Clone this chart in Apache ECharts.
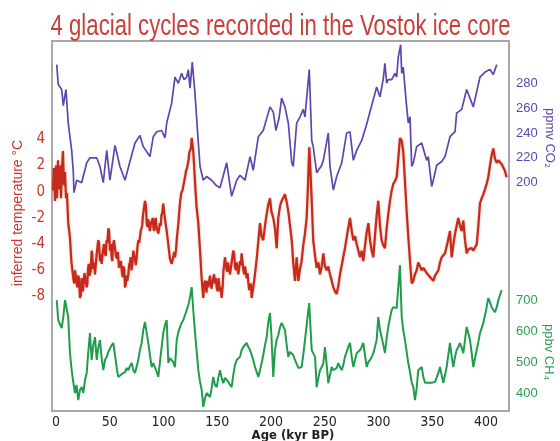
<!DOCTYPE html>
<html><head><meta charset="utf-8">
<script src="https://cdn.jsdelivr.net/npm/echarts@6/dist/echarts.min.js"></script>
<style>html,body{margin:0;padding:0;background:#fff}#c{width:560px;height:441px}</style>
</head><body><div id="c"></div>
<script>
const titleText = '4 glacial cycles recorded in the Vostok ice core';
const xName = 'Age (kyr BP)';
const tempName = 'inferred temperature \u00B0C';
const co2Name = 'ppmv CO\u2082';
const ch4Name = 'ppbv CH\u2084';
const xTicks = [0, 50, 100, 150, 200, 250, 300, 350, 400];
const tempTicks = [-8, -6, -4, -2, 0, 2, 4];
const co2Ticks = [200, 220, 240, 260, 280];
const ch4Ticks = [400, 500, 600, 700];

// [age kyr BP, ppmv]
const co2Data = [[0.7,295],[2.1,279],[5.3,275],[6.8,262],[9.3,275],[11.4,248],[14.6,226],[16.1,209],[16.7,192],[19.3,202],[23.9,200],[28.6,216],[31.6,220],[37.9,220],[40.9,213],[44,200],[47.2,226],[50.2,202],[54.9,230],[59.5,213],[64.2,202],[68.8,217],[73.5,232],[78.1,238],[81.2,229],[87.4,221],[90.5,237],[93.7,241],[98.3,242],[101.4,236],[103,248],[107.6,264],[110.7,285],[113.8,280],[116.9,288],[119,283],[121.6,285],[123.1,291],[124.7,276],[126.8,297],[129.3,272],[132.4,232],[134,213],[137,202],[140.2,205],[144.8,202],[148.8,198],[152.6,196],[158.8,216],[163.4,189],[168.1,202],[171.2,206],[175.8,202],[180.5,221],[183.5,210],[188.2,237],[192.8,242],[199.1,261],[202.1,257],[204.6,242],[207.5,252],[209.9,268],[213,261],[216.1,248],[219.3,216],[220.7,213],[223.9,248],[227,253],[230,259],[231.6,253],[235.6,291],[237.9,234],[239.3,229],[242.5,208],[247.2,214],[248.7,218],[253.3,240],[254.9,213],[258,194],[261.1,205],[265.8,216],[270.4,240],[273.5,241],[276.6,218],[279.7,226],[284.4,234],[289,247],[292.1,257],[298.3,277],[301.4,269],[304.5,284],[306,296],[307.6,280],[309.1,283],[312.3,283],[315.3,288],[316.9,285],[318.4,301],[320.6,311],[321.6,288],[323,293],[326.2,261],[327.7,248],[329.3,253],[330.9,213],[332.4,216],[335.5,229],[340.2,232],[344.8,218],[346.3,221],[349.5,197],[351,202],[354.1,214],[358.8,217],[361.9,221],[366.5,237],[371.2,241],[372.7,256],[374.2,255],[377.4,259],[378.9,260],[382,275],[388.2,261],[394.4,285],[399.1,289],[403.7,291],[406.8,287],[410,295]];

// [age kyr BP, inferred temperature °C]
const tempData = [[-2.8,0.1],[-1.9,1.8],[-0.9,-0.7],[0,2.0],[0.9,-0.5],[1.9,2.4],[2.8,0.2],[3.7,2.0],[4.7,-0.5],[5.6,1.8],[6.5,3.1],[7.4,0.5],[8.4,1.5],[9.3,-0.5],[10.2,-0.1],[11.4,-2.4],[13,-3.5],[14.4,-5.4],[15.2,-5.4],[16.1,-6.6],[16.9,-7.0],[17.7,-6.0],[18.5,-6.0],[19.3,-7.0],[19.9,-7.3],[20.5,-6.4],[21.4,-6.6],[22.3,-8.1],[23.1,-7.9],[23.9,-6.6],[24.5,-6.6],[25.1,-7.6],[25.8,-7.5],[26.5,-6.2],[27.5,-6.2],[28.6,-7.3],[29.2,-7.0],[29.8,-5.9],[30.5,-5.5],[31.2,-6.4],[32.2,-6.1],[33.2,-4.5],[33.8,-4.8],[34.4,-5.9],[35.3,-5.4],[36.3,-6.3],[37,-6.2],[37.7,-4.9],[38.5,-4.8],[39.3,-3.7],[40.1,-3.9],[40.9,-5.3],[41.7,-4.8],[42.5,-5.5],[43.1,-5.6],[43.7,-4.5],[44.6,-4.0],[45.6,-4.7],[46.3,-4.9],[47,-3.7],[47.8,-3.9],[48.7,-2.8],[49.4,-3.0],[50.2,-4.5],[51,-4.0],[51.8,-5.0],[52.4,-5.3],[53,-4.1],[53.9,-3.7],[54.9,-4.3],[55.8,-4.9],[56.7,-5.1],[57.6,-4.6],[58.6,-5.8],[59.5,-5.5],[60.4,-5.3],[61.4,-6.2],[62.1,-6.5],[62.8,-5.7],[63.5,-5.9],[64.2,-7.3],[64.9,-7.1],[65.6,-6.4],[66.4,-6.8],[67.3,-6.3],[68,-5.6],[68.8,-5.4],[69.5,-5.0],[70.2,-6.0],[71,-5.6],[71.9,-4.5],[72.7,-4.4],[73.5,-5.1],[74.3,-5.6],[75.1,-5.0],[75.9,-4.1],[76.7,-3.7],[77.4,-3.9],[78.1,-3.5],[78.8,-3.0],[79.5,-3.0],[80.2,-2.6],[80.9,-1.8],[81.8,-1.9],[82.8,-0.7],[83.6,-1.0],[84.4,-2.4],[85.1,-2.7],[85.9,-2.1],[86.6,-2.0],[87.4,-3.0],[88.3,-2.4],[89.3,-2.2],[90,-2.0],[90.7,-2.8],[91.4,-3.0],[92.1,-2.2],[92.8,-2.0],[93.5,-2.7],[94.3,-2.6],[95.2,-3.2],[95.9,-3.3],[96.7,-2.4],[97.4,-2.6],[98.1,-1.8],[98.9,-1.6],[99.8,-0.9],[100.6,-1.0],[101.4,-2.1],[102.2,-2.0],[103,-3.0],[103.8,-3.0],[104.6,-4.1],[105.3,-4.2],[106,-5.1],[106.8,-5.0],[107.6,-5.5],[108.4,-5.6],[109.3,-4.9],[110,-4.6],[110.7,-5.0],[111.6,-4.5],[112.6,-3.4],[113.9,-2.4],[115.3,-0.9],[116.5,-0.1],[117.7,0.1],[118.8,0.2],[120,1.1],[121,1.6],[121.9,1.8],[122.6,1.8],[123.3,2.4],[124,3.0],[124.7,3.1],[125.5,3.3],[126.2,4.1],[127.7,3.1],[129.3,0.8],[130.7,-1.1],[132.4,-2.4],[134,-4.5],[135.5,-6.6],[137,-8.1],[137.8,-7.1],[138.6,-6.8],[139.3,-7.0],[140,-7.7],[140.8,-6.8],[141.7,-7.3],[142.5,-7.4],[143.3,-6.4],[144,-6.3],[144.6,-7.4],[145.4,-7.0],[146.3,-6.6],[147.1,-6.3],[147.9,-7.0],[148.7,-6.6],[149.5,-7.3],[150.3,-7.6],[151.2,-6.6],[151.9,-6.5],[152.6,-7.6],[153.3,-7.3],[154.1,-8.1],[155,-7.3],[155.8,-6.0],[156.5,-5.9],[157.2,-5.0],[157.9,-5.1],[158.6,-5.9],[159.3,-6.1],[160,-5.4],[161,-5.3],[161.9,-6.3],[162.6,-6.4],[163.4,-5.4],[164.1,-5.4],[164.9,-4.5],[165.7,-4.7],[166.5,-5.7],[167.3,-6.0],[168.1,-5.4],[168.9,-5.4],[169.6,-6.3],[170.4,-6.3],[171.2,-5.3],[172,-5.6],[172.7,-4.7],[173.5,-4.8],[174.2,-5.9],[175,-6.3],[175.8,-5.7],[176.6,-5.7],[177.4,-6.6],[178.2,-6.2],[179,-7.0],[179.8,-7.5],[180.5,-7.3],[181.3,-7.0],[182,-8.1],[182.8,-7.7],[183.7,-7.2],[184.4,-7.3],[185.1,-6.3],[187,-4.9],[188.4,-3.6],[189.8,-2.4],[191.2,-3.4],[192.8,-3.7],[194.4,-2.6],[195.8,-1.8],[197.2,-1.1],[199.1,-0.5],[200.4,-1.5],[202.1,-2.0],[203.7,-2.8],[205.3,-4.3],[206.8,-2.0],[208.4,-1.1],[209.9,-0.7],[213,-0.2],[214.4,-0.7],[216.1,-1.5],[217.7,-2.6],[219.3,-3.7],[220.7,-5.4],[222.3,-6.8],[223.9,-5.0],[225.4,-6.8],[227,-5.9],[228.5,-5.3],[230,-4.1],[231.6,-3.2],[233.2,-2.0],[234.4,0.5],[235.6,3.4],[236.7,1.6],[237.9,-0.7],[239.3,-3.7],[241,-4.9],[242.5,-5.8],[244.1,-5.4],[245.6,-6.3],[247.2,-5.7],[248.7,-4.7],[250.2,-5.7],[251.8,-6.0],[253.3,-5.7],[254.9,-6.3],[256.5,-6.8],[258,-7.3],[259.5,-7.6],[261.1,-7.8],[262.6,-7.2],[264.2,-6.3],[266.5,-5.3],[268.8,-4.3],[271.2,-3.1],[273.5,-2.0],[275.1,-3.0],[276.6,-3.7],[278.2,-3.4],[279.7,-4.0],[281.3,-4.5],[282.8,-5.0],[284.4,-4.5],[285.9,-5.3],[287.5,-4.1],[289,-3.1],[290.6,-2.4],[292.1,-3.7],[293.7,-4.5],[295.2,-5.0],[296.7,-3.4],[298.3,-1.8],[299.8,-0.7],[301.4,-2.6],[302.9,-3.7],[304.5,-4.1],[306,-4.3],[307.6,-2.8],[309.1,-1.7],[310.7,-0.7],[312.3,0.1],[313.8,0.6],[315.3,0.8],[316.9,1.1],[318.4,2.5],[320,4.1],[321.6,3.9],[323,3.1],[324.6,0.8],[326.2,-1.5],[327.7,-3.4],[329.3,-5.3],[330.9,-7.0],[332.4,-6.8],[333.9,-6.3],[335.5,-6.0],[337,-5.4],[338.6,-5.5],[340.2,-6.0],[341.7,-5.8],[343.3,-6.0],[344.8,-6.2],[346.3,-6.3],[347.9,-6.5],[349.5,-6.6],[351,-6.8],[352.6,-6.4],[354.1,-6.2],[355.7,-6.0],[357.2,-5.4],[358.8,-5.0],[360.3,-5.1],[361.9,-4.7],[364.2,-3.9],[366.5,-3.0],[368.1,-5.0],[369.6,-4.1],[371.2,-3.2],[372.7,-2.6],[374.2,-2.0],[375.8,-2.6],[377.4,-3.0],[378.9,-2.2],[380.5,-3.7],[382,-4.7],[383.6,-4.4],[385.1,-4.5],[386.7,-4.3],[388.2,-4.5],[391.4,-4.0],[392.9,-2.6],[394.4,-0.9],[396,-0.5],[397.5,-0.2],[399.1,0.2],[400.6,0.6],[402.1,1.1],[403.7,2.0],[405.3,2.8],[406.8,3.3],[408.4,2.5],[410,2.2],[411.5,2.4],[413,2.5],[414.6,2.1],[416,2.1],[417.6,1.6],[419.1,1.1]];

// [age kyr BP, ppbv]
const ch4Data = [[0.7,702],[2.1,637],[5.3,611],[6.8,647],[8.4,702],[10,708],[11.4,647],[13,530],[14.6,475],[15.8,443],[17.7,401],[19.1,427],[20.7,378],[22.3,411],[23.9,420],[25.4,401],[27,443],[28.6,466],[29.8,524],[31.6,595],[33.2,508],[34.7,556],[36.3,582],[37.9,508],[39.3,547],[40.9,572],[42.5,514],[44,475],[45.6,508],[47.2,518],[48.7,534],[50.2,540],[51.8,556],[53.3,563],[54.9,524],[56.5,482],[57.9,453],[59.5,456],[61.1,462],[62.6,466],[64.2,469],[65.8,482],[67.3,475],[68.8,488],[70.4,498],[71.9,475],[73.5,466],[75.1,488],[76.6,508],[78.1,540],[79.7,563],[81.2,605],[82.8,631],[84.4,595],[85.9,563],[87.4,524],[89,485],[90.5,498],[92.1,492],[93.7,469],[95.2,453],[96.7,501],[98.3,550],[99.8,595],[101.4,621],[103,637],[104.5,498],[106,514],[107.6,518],[109.1,501],[110.7,485],[112.3,572],[113.8,598],[115.3,614],[116.9,628],[118.4,637],[120,653],[121.6,670],[123.1,686],[124.7,712],[126.2,744],[127.7,670],[129.3,598],[130.9,534],[132.4,475],[134,437],[135.5,411],[137,356],[138.6,385],[140.2,401],[141.7,395],[143.3,388],[144.8,417],[146.3,453],[147.9,427],[149.5,420],[151,450],[152.6,475],[154.1,450],[155.6,433],[157.2,450],[158.8,453],[160.3,437],[161.9,427],[163.4,420],[164.9,459],[166.5,492],[168.1,508],[169.6,514],[171.2,518],[172.7,540],[174.2,550],[175.8,556],[177.4,563],[178.9,550],[180.5,540],[182,524],[183.5,508],[185.1,485],[186.7,469],[188.2,453],[189.8,475],[191.3,498],[192.8,524],[194.4,556],[196,582],[197.5,631],[199.1,660],[200.4,589],[202.1,453],[203.7,540],[205.3,573],[206.8,589],[208.4,614],[209.9,628],[211.4,631],[213,605],[214.6,556],[216.1,518],[217.7,534],[219.3,540],[220.7,524],[222.3,508],[223.9,495],[225.4,482],[227,485],[228.5,485],[230,524],[231.6,572],[233.2,621],[234.4,660],[235.6,692],[236.7,615],[237.9,540],[239.3,530],[241,518],[242.5,420],[244.1,450],[245.6,475],[247.2,485],[248.7,498],[250.2,550],[251.8,492],[253.3,433],[254.9,459],[256.5,485],[258,475],[259.5,475],[261.1,482],[262.6,498],[264.2,485],[265.8,475],[267.3,492],[268.8,518],[270.4,534],[271.9,550],[273.5,563],[275.1,518],[276.6,485],[278.2,508],[279.7,530],[281.2,534],[282.8,540],[284.4,550],[285.9,563],[287.4,524],[289,485],[290.5,501],[292.1,508],[293.7,518],[295.2,530],[296.7,550],[298.3,573],[299.8,647],[301.4,605],[302.9,582],[304.5,556],[306,530],[307.6,579],[309.1,615],[310.7,644],[312.3,670],[313.8,679],[315.3,679],[316.9,676],[318.4,670],[320,815],[321.6,647],[323,605],[324.6,573],[326.2,534],[327.7,498],[329.3,469],[330.9,434],[332.4,420],[333.9,378],[335.5,417],[337,475],[338.6,469],[340.2,485],[341.7,453],[343.3,434],[344.8,434],[346.3,434],[347.9,437],[349.5,434],[351,434],[352.6,437],[354.1,443],[355.7,466],[357.2,485],[358.8,459],[360.3,434],[361.9,459],[363.4,485],[364.9,524],[366.5,563],[368.1,518],[369.6,485],[371.2,518],[372.7,540],[374.2,550],[375.8,563],[377.4,547],[378.9,530],[380.5,573],[382,615],[383.5,595],[385.1,573],[386.7,530],[388.2,485],[389.8,514],[391.3,540],[392.9,566],[394.4,595],[396,611],[397.5,628],[399.1,653],[400.6,679],[402.1,708],[403.7,695],[405.3,679],[406.8,670],[408.4,663],[410,679],[411.5,702],[413,718],[414.6,734]];

const chart = echarts.init(document.getElementById('c'), null, {renderer: 'canvas'});
const sans = '"Liberation Sans", Arial, sans-serif';
const narrow = '"Liberation Sans Narrow", "Arial Narrow", "DejaVu Sans Condensed", sans-serif';
const RED = '#c7372d', PURPLE = '#5f45a8', GREEN = '#2a9f52';

function yAx(min, max, ticks, color, font, size, pos) {
  return {
    type: 'value', min: min, max: max, position: pos, offset: 0,
    axisLine: {show: false}, axisTick: {show: false}, splitLine: {show: false},
    axisLabel: {customValues: ticks, color: color, fontFamily: font, fontSize: size, margin: 7}
  };
}

chart.setOption({
  animation: false,
  backgroundColor: '#ffffff',
  grid: {left: 52, right: 51, top: 41, bottom: 30, show: true, borderColor: '#a8a8a8', borderWidth: 2, backgroundColor: 'transparent'},
  xAxis: {
    type: 'value', min: -3.7, max: 421.4,
    axisLine: {show: false}, axisTick: {show: false}, splitLine: {show: false},
    axisLabel: {customValues: xTicks, color: '#222', fontFamily: narrow, fontSize: 14, margin: 4}
  },
  yAxis: [
    yAx(-16.73, 11.5, tempTicks, RED, narrow, 15, 'left'),
    yAx(16.3, 314, co2Ticks, PURPLE, sans, 13, 'right'),
    yAx(342.7, 1541, ch4Ticks, GREEN, sans, 13, 'right')
  ],
  graphic: [
    {type: 'text', x: 280.5, y: 27, scaleX: 0.765, style: {text: titleText, fill: '#c9403a', font: '29px ' + sans, textAlign: 'center', textVerticalAlign: 'middle'}},
    {type: 'text', x: 293, y: 436, style: {text: xName, fill: '#222', font: 'bold 13px ' + narrow, textAlign: 'center', textVerticalAlign: 'middle'}},
    {type: 'text', x: 18, y: 213, rotation: Math.PI / 2, style: {text: tempName, fill: RED, font: '14px ' + sans, textAlign: 'center', textVerticalAlign: 'middle'}},
    {type: 'text', x: 550, y: 138, rotation: -Math.PI / 2, style: {text: co2Name, fill: PURPLE, font: '13px ' + sans, textAlign: 'center', textVerticalAlign: 'middle'}},
    {type: 'text', x: 549, y: 352, rotation: -Math.PI / 2, style: {text: ch4Name, fill: GREEN, font: '13px ' + sans, textAlign: 'center', textVerticalAlign: 'middle'}}
  ],
  series: [
    {type: 'line', name: 'CH4', yAxisIndex: 2, data: ch4Data, showSymbol: false, lineStyle: {color: '#1f9c4c', width: 2}},
    {type: 'line', name: 'Temperature', yAxisIndex: 0, data: tempData, showSymbol: false, lineStyle: {color: '#c62a1c', width: 2.2, shadowColor: 'rgba(230,110,60,0.6)', shadowBlur: 2}},
    {type: 'line', name: 'CO2', yAxisIndex: 1, data: co2Data, showSymbol: false, lineStyle: {color: '#5f45ad', width: 1.7}}
  ]
});
</script>
</body></html>
